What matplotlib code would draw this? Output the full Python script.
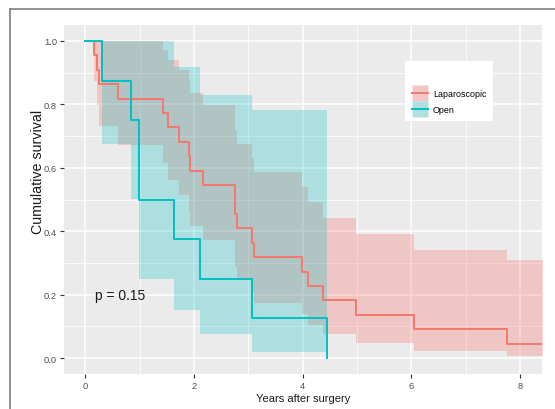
import matplotlib
matplotlib.use('Agg')
import matplotlib.pyplot as plt
from matplotlib.lines import Line2D

# ---- data ----
red_time  = [0, 0.165, 0.215, 0.26, 0.61, 1.43, 1.53, 1.73, 1.90, 1.93, 2.17, 2.76, 2.79,
             3.06, 3.11, 3.98, 4.09, 4.38, 4.98, 6.05, 7.76, 8.45]
red_surv  = [1.0, 0.955, 0.909, 0.864, 0.818, 0.773, 0.727, 0.682, 0.636, 0.591, 0.545, 0.455,
             0.409, 0.364, 0.318, 0.273, 0.227, 0.182, 0.136, 0.091, 0.045, 0.045]
red_upper = [1.0, 1.0, 1.0, 1.0, 1.0, 0.97, 0.94, 0.907, 0.873, 0.837, 0.798, 0.719,
             0.676, 0.632, 0.586, 0.54, 0.491, 0.441, 0.39, 0.341, 0.309, 0.309]
red_lower = [1.0, 0.872, 0.797, 0.731, 0.672, 0.616, 0.563, 0.513, 0.464, 0.417, 0.372, 0.288,
             0.248, 0.209, 0.173, 0.138, 0.105, 0.075, 0.048, 0.024, 0.007, 0.007]

teal_time  = [0, 0.30, 0.85, 0.99, 1.64, 2.12, 3.07, 4.44]
teal_surv  = [1.0, 0.875, 0.75, 0.5, 0.375, 0.25, 0.125, 0.0]
teal_upper = [1.0, 1.0, 1.0, 1.0, 0.917, 0.83, 0.782, 0.782]
teal_lower = [1.0, 0.674, 0.503, 0.25, 0.153, 0.075, 0.02, 0.02]

groups = ['Laparoscopic', 'Open']
x_ticks = [0, 2, 4, 6, 8]
x_minor = [1, 3, 5, 7]
y_ticks = [0.0, 0.2, 0.4, 0.6, 0.8, 1.0]
y_minor = [0.1, 0.3, 0.5, 0.7, 0.9]
p_label = 'p = 0.15'

# ---- styling ----
plt.rcParams['font.family'] = ['Liberation Sans', 'DejaVu Sans']
red = '#F8766D'
teal = '#00BFC4'

fig = plt.figure(figsize=(5.55, 4.10), dpi=100)
W, H = 555, 410
ax = fig.add_axes([64 / W, 1 - 375 / H, (542 - 64) / W, (375 - 26) / H])
ax.set_facecolor('#EBEBEB')
for s in ax.spines.values():
    s.set_visible(False)

ax.set_xlim(-0.39, 8.40)
ax.set_ylim(-0.05, 1.05)
ax.set_xticks(x_ticks)
ax.set_xticklabels([str(v) for v in x_ticks])
ax.set_xticks(x_minor, minor=True)
ax.set_yticks(y_ticks)
ax.set_yticklabels(['%.1f' % v for v in y_ticks])
ax.set_yticks(y_minor, minor=True)
ax.set_axisbelow(True)
ax.grid(which='major', color='white', lw=1.1)
ax.grid(which='minor', color='white', lw=0.55)
ax.tick_params(which='minor', length=0)
ax.tick_params(which='major', length=3, width=0.8, color='#333333',
               labelsize=6.7, labelcolor='#4D4D4D', pad=2)

ax.fill_between(red_time, red_lower, red_upper, step='post', color=red, alpha=0.3, lw=0)
ax.step(red_time, red_surv, where='post', color=red, lw=1.4)
ax.fill_between(teal_time, teal_lower, teal_upper, step='post', color=teal, alpha=0.26, lw=0)
ax.step(teal_time, teal_surv, where='post', color=teal, lw=1.4)

ax.text(0.18, 0.2, p_label, ha='left', va='center', fontsize=10, color='#1a1a1a')

ax.set_xlabel('Years after surgery', fontsize=8, color='#1a1a1a')
ax.xaxis.set_label_coords(0.5, (375 - 399) / 349)
ax.xaxis.label.set_va('center')
ax.set_ylabel('Cumulative survival', fontsize=10.3, color='#1a1a1a')
ax.yaxis.set_label_coords((38 - 64) / 478, (375 - 172) / 349)
ax.yaxis.label.set_va('center')

key_ms = 11.5
handles = [(Line2D([], [], marker='s', markersize=key_ms, markerfacecolor='#F1C7C5',
                   markeredgecolor='none', linestyle='none'),
            Line2D([], [], color=red, lw=1.4)),
           (Line2D([], [], marker='s', markersize=key_ms, markerfacecolor='#B0DFE0',
                   markeredgecolor='none', linestyle='none'),
            Line2D([], [], color=teal, lw=1.4))]
leg = ax.legend(handles, groups, loc='upper left', bbox_to_anchor=(405 / W, 1 - 62 / H),
                bbox_transform=fig.transFigure, borderaxespad=0, frameon=True,
                fancybox=False, facecolor='white', edgecolor='none', framealpha=1,
                fontsize=6.4, handlelength=1.8, handleheight=1.0, labelspacing=0.75,
                handletextpad=0.6, borderpad=0.75, title=' ', title_fontsize=12.5)

# frame lines of the cropped figure
fig.add_artist(Line2D([10 / W, 1], [1 - 10 / H, 1 - 10 / H], transform=fig.transFigure,
                      color='#7f7f7f', lw=1.2))
fig.add_artist(Line2D([10 / W, 10 / W], [0, 1 - 10 / H], transform=fig.transFigure,
                      color='#7f7f7f', lw=1.2))

fig.savefig('out.png', dpi=100)
